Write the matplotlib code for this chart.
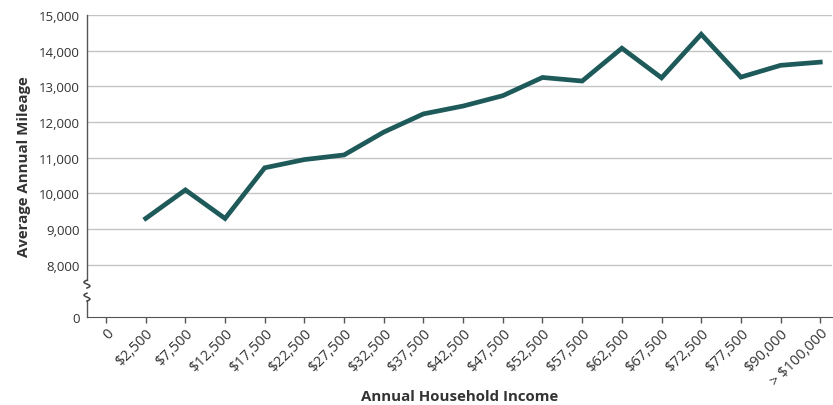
import matplotlib.pyplot as plt
import numpy as np

plt.rcParams['font.family'] = ['Open Sans', 'DejaVu Sans']

income_labels = ["0", "$2,500", "$7,500", "$12,500", "$17,500", "$22,500", "$27,500",
                 "$32,500", "$37,500", "$42,500", "$47,500", "$52,500", "$57,500",
                 "$62,500", "$67,500", "$72,500", "$77,500", "$90,000", "> $100,000"]
# no value at "0"
mileage = [np.nan, 9300, 10100, 9300, 10720, 10950, 11080, 11720, 12230, 12450,
           12740, 13250, 13150, 14070, 13240, 14460, 13260, 13590, 13680]
y_ticks = [8000, 9000, 10000, 11000, 12000, 13000, 14000, 15000]

# the axis is broken below 8,000: 0 sits at this position
zero_pos = 6540

fig = plt.figure(figsize=(8.33, 4.06), dpi=100)
ax = fig.add_axes([0.1044, 0.2167, 0.8946, 0.7439])

x = np.arange(len(income_labels))
for t in y_ticks:
    ax.axhline(t, color='#c4c4c4', lw=1.0, zorder=1)
ax.plot(x, mileage, color='#1f5a5a', lw=3.4, solid_joinstyle='miter', zorder=3)

ax.set_xlim(-0.48, 18.3)
ax.set_ylim(zero_pos, 15000)
ax.set_yticks([zero_pos] + y_ticks)
ax.set_yticklabels(["0"] + [f"{v:,}" for v in y_ticks])
ax.set_xticks(x)
ax.set_xticklabels(income_labels, rotation=45, ha='right', va='top',
                   rotation_mode='anchor')

for s in ['top', 'right', 'left']:
    ax.spines[s].set_visible(False)
ax.spines['bottom'].set_color('#555555')
ax.tick_params(axis='y', length=0, pad=5, labelsize=9.5, labelcolor='#333333')
ax.tick_params(axis='x', length=4, width=1, color='#555555', pad=2,
               labelsize=10.5, labelcolor='#333333')

# left axis line with a break (squiggles)
ax.plot([0, 0], [0.0, 0.053], transform=ax.transAxes, color='#555555', lw=1, clip_on=False)
ax.plot([0, 0], [0.122, 1.0], transform=ax.transAxes, color='#555555', lw=1, clip_on=False)
tt = np.linspace(0, 1, 30)
for y0 in [0.053, 0.096]:
    ax.plot(0.004 * np.sin(2 * np.pi * tt), y0 + 0.026 * tt, transform=ax.transAxes,
            color='#444444', lw=1.1, clip_on=False)

ax.set_ylabel("Average Annual Mileage", fontsize=10.8, fontweight='bold',
              color='#333333', labelpad=6)
ax.set_xlabel("Annual Household Income", fontsize=10.8, fontweight='bold',
              color='#333333', labelpad=0)

fig.savefig("out.png", dpi=100)
